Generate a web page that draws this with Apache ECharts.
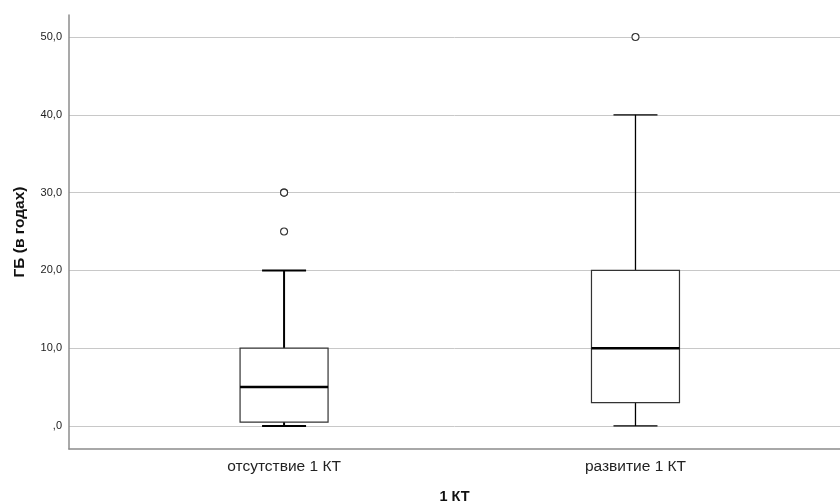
<!DOCTYPE html>
<html>
<head>
<meta charset="utf-8">
<script src="https://cdn.jsdelivr.net/npm/echarts@6/dist/echarts.min.js"></script>
<style>html,body{margin:0;padding:0;background:#fff}#c{width:840px;height:504px}</style>
</head>
<body>
<div id="c"></div>
<script>
var categories = ['отсутствие 1 КТ', 'развитие 1 КТ'];
var whiskerLow = [0, 0];
var q1 = [0.5, 3];
var median = [5, 10];
var q3 = [10, 20];
var whiskerHigh = [20, 40];
var outliers = [[25, 30, 30], [50]];
var yTicks = [0, 10, 20, 30, 40, 50];
var xTitle = '1 КТ';
var yTitle = 'ГБ (в годах)';

var boxData = categories.map(function (c, i) {
  return [i + 1, whiskerLow[i], q1[i], median[i], q3[i], whiskerHigh[i]];
});
var outlierData = [];
outliers.forEach(function (arr, i) {
  arr.forEach(function (v) { outlierData.push([i + 1, v]); });
});
var whiskerWidths = [2, 1.3];

function fmtY(v) {
  if (v === 0) return ',0';
  return v.toFixed(1).replace('.', ',');
}

var FONT = 'Liberation Sans, Arial, sans-serif';
var chart = echarts.init(document.getElementById('c'), null, {renderer: 'canvas'});
chart.setOption({
  animation: false,
  backgroundColor: '#fff',
  grid: {left: 69, right: 0, top: 15, bottom: 55, containLabel: false, outerBoundsMode: 'none'},
  xAxis: {
    type: 'value',
    min: 0.388,
    max: 2.582,
    name: xTitle,
    nameLocation: 'middle',
    nameGap: 40,
    nameTextStyle: {fontFamily: FONT, fontSize: 14.5, fontWeight: 'bold', color: '#111'},
    axisLine: {show: true, onZero: false, lineStyle: {color: '#8c8c8c', width: 1.5}},
    axisTick: {show: false, customValues: [1, 2]},
    splitLine: {show: false},
    axisLabel: {
      customValues: [1, 2],
      formatter: function (v) { return categories[Math.round(v) - 1] || ''; },
      fontFamily: FONT, fontSize: 15.5, color: '#222', margin: 10
    }
  },
  yAxis: {
    type: 'value',
    min: -2.96,
    max: 52.83,
    name: yTitle,
    nameLocation: 'middle',
    nameGap: 41,
    nameRotate: 90,
    nameTextStyle: {fontFamily: FONT, fontSize: 15.5, fontWeight: 'bold', color: '#111'},
    axisLine: {show: true, onZero: false, lineStyle: {color: '#8c8c8c', width: 1.5}},
    axisTick: {show: false, customValues: yTicks},
    axisLabel: {
      customValues: yTicks,
      formatter: fmtY,
      fontFamily: FONT, fontSize: 11, color: '#222', margin: 7
    },
    splitLine: {show: true, showMinLine: true, showMaxLine: true, lineStyle: {color: '#c8c8c8', width: 1}}
  },
  series: [
    {
      type: 'custom',
      data: boxData,
      encode: {x: 0, y: [1, 2, 3, 4, 5]},
      renderItem: function (params, api) {
        var x = api.value(0);
        var pLow = api.coord([x, api.value(1)]);
        var pQ1 = api.coord([x, api.value(2)]);
        var pMed = api.coord([x, api.value(3)]);
        var pQ3 = api.coord([x, api.value(4)]);
        var pHigh = api.coord([x, api.value(5)]);
        var cx = pLow[0];
        var hb = 44, hc = 22;
        var ww = whiskerWidths[params.dataIndex];
        var wStyle = {stroke: '#000', lineWidth: ww};
        return {
          type: 'group',
          children: [
            {type: 'line', shape: {x1: cx, y1: pQ3[1], x2: cx, y2: pHigh[1]}, style: wStyle},
            {type: 'line', shape: {x1: cx, y1: pLow[1], x2: cx, y2: pQ1[1]}, style: wStyle},
            {type: 'line', shape: {x1: cx - hc, y1: pHigh[1], x2: cx + hc, y2: pHigh[1]}, style: wStyle},
            {type: 'line', shape: {x1: cx - hc, y1: pLow[1], x2: cx + hc, y2: pLow[1]}, style: wStyle},
            {type: 'rect', shape: {x: cx - hb, y: pQ3[1], width: 2 * hb, height: pQ1[1] - pQ3[1]},
              style: {fill: '#fff', stroke: '#333', lineWidth: 1.2}},
            {type: 'line', shape: {x1: cx - hb, y1: pMed[1], x2: cx + hb, y2: pMed[1]},
              style: {stroke: '#000', lineWidth: 2.5}}
          ]
        };
      },
      z: 3
    },
    {
      type: 'scatter',
      data: outlierData,
      symbol: 'circle',
      symbolSize: 7,
      itemStyle: {color: '#fff', borderColor: '#333', borderWidth: 1.1, opacity: 1},
      z: 4
    }
  ]
});
</script>
</body>
</html>
